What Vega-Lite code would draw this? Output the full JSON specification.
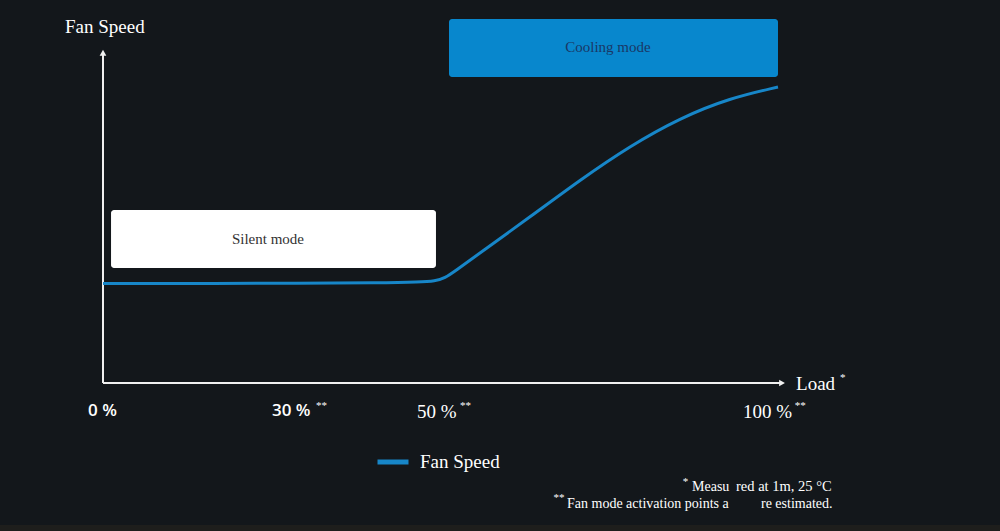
{
  "$schema": "https://vega.github.io/schema/vega-lite/v6.json",
  "width": 1000,
  "height": 531,
  "padding": 0,
  "autosize": {"type": "none"},
  "background": "#13171b",
  "config": {"view": {"stroke": null}},
  "datasets": {
    "curve": [
      {"load": 0, "speed": 29.44, "series": "Fan Speed"},
      {"load": 14.37, "speed": 29.44, "series": "Fan Speed"},
      {"load": 29.19, "speed": 29.5, "series": "Fan Speed"},
      {"load": 41.04, "speed": 29.64, "series": "Fan Speed"},
      {"load": 46.96, "speed": 29.88, "series": "Fan Speed"},
      {"load": 49.19, "speed": 30.18, "series": "Fan Speed"},
      {"load": 50.67, "speed": 31.07, "series": "Fan Speed"},
      {"load": 52.15, "speed": 33.14, "series": "Fan Speed"},
      {"load": 55.85, "speed": 38.46, "series": "Fan Speed"},
      {"load": 63.26, "speed": 49.11, "series": "Fan Speed"},
      {"load": 70.67, "speed": 60.06, "series": "Fan Speed"},
      {"load": 78.07, "speed": 70.12, "series": "Fan Speed"},
      {"load": 85.48, "speed": 78.4, "series": "Fan Speed"},
      {"load": 92.89, "speed": 84.32, "series": "Fan Speed"},
      {"load": 100, "speed": 87.57, "series": "Fan Speed"}
    ]
  },
  "layer": [
    {
      "data": {"values": [{"x": -15.26, "x2": 132.89, "y": -42.0, "y2": -43.79}]},
      "mark": {"type": "rect", "color": "#1e1e1c"},
      "encoding": {
        "x": {"field": "x", "type": "quantitative", "scale": {"domain": [-15.259, 132.889], "nice": false, "zero": false}, "axis": null},
        "x2": {"field": "x2"},
        "y": {"field": "y", "type": "quantitative", "scale": {"domain": [-43.787, 113.314], "nice": false, "zero": false}, "axis": null},
        "y2": {"field": "y2"}
      }
    },
    {
      "data": {"values": [{"x": 1.19, "x2": 49.33, "y": 34.02, "y2": 51.18}]},
      "mark": {"type": "rect", "color": "#ffffff", "cornerRadius": 3},
      "encoding": {
        "x": {"field": "x", "type": "quantitative"},
        "x2": {"field": "x2"},
        "y": {"field": "y", "type": "quantitative"},
        "y2": {"field": "y2"}
      }
    },
    {
      "data": {"values": [{"x": 51.26, "x2": 100, "y": 90.53, "y2": 107.69}]},
      "mark": {"type": "rect", "color": "#0887cd", "cornerRadius": 3},
      "encoding": {
        "x": {"field": "x", "type": "quantitative"},
        "x2": {"field": "x2"},
        "y": {"field": "y", "type": "quantitative"},
        "y2": {"field": "y2"}
      }
    },
    {
      "data": {"values": [{"x": 24.44, "y": 42.6, "t": "Silent mode"}]},
      "mark": {"type": "text", "font": "Liberation Serif", "fontSize": 15, "color": "#333333", "align": "center", "baseline": "middle"},
      "encoding": {
        "x": {"field": "x", "type": "quantitative"},
        "y": {"field": "y", "type": "quantitative"},
        "text": {"field": "t"}
      }
    },
    {
      "data": {"values": [{"x": 74.81, "y": 99.4, "t": "Cooling mode"}]},
      "mark": {"type": "text", "font": "Liberation Serif", "fontSize": 15, "color": "#1a3766", "align": "center", "baseline": "middle"},
      "encoding": {
        "x": {"field": "x", "type": "quantitative"},
        "y": {"field": "y", "type": "quantitative"},
        "text": {"field": "t"}
      }
    },
    {
      "data": {"values": [{"x": 0, "x2": 100.3, "y": 0}]},
      "mark": {"type": "rule", "color": "#f0f0f0", "strokeWidth": 2},
      "encoding": {
        "x": {"field": "x", "type": "quantitative"},
        "x2": {"field": "x2"},
        "y": {"field": "y", "type": "quantitative"}
      }
    },
    {
      "data": {"values": [{"x": 0, "y": 0, "y2": 97.5}]},
      "mark": {"type": "rule", "color": "#f0f0f0", "strokeWidth": 2},
      "encoding": {
        "x": {"field": "x", "type": "quantitative"},
        "y": {"field": "y", "type": "quantitative"},
        "y2": {"field": "y2"}
      }
    },
    {
      "data": {"values": [{"x": 100.6, "y": 0}]},
      "mark": {"type": "point", "shape": "triangle-right", "filled": true, "color": "#f0f0f0", "size": 45, "opacity": 1},
      "encoding": {
        "x": {"field": "x", "type": "quantitative"},
        "y": {"field": "y", "type": "quantitative"}
      }
    },
    {
      "data": {"values": [{"x": 0, "y": 97.7}]},
      "mark": {"type": "point", "shape": "triangle-up", "filled": true, "color": "#f0f0f0", "size": 45, "opacity": 1},
      "encoding": {
        "x": {"field": "x", "type": "quantitative"},
        "y": {"field": "y", "type": "quantitative"}
      }
    },
    {
      "data": {"name": "curve"},
      "mark": {"type": "line", "interpolate": "basis", "strokeWidth": 3},
      "encoding": {
        "x": {"field": "load", "type": "quantitative"},
        "y": {"field": "speed", "type": "quantitative"},
        "color": {
          "field": "series",
          "type": "nominal",
          "scale": {"domain": ["Fan Speed"], "range": ["#1786c8"]},
          "legend": {
            "orient": "none",
            "legendX": 375,
            "legendY": 444,
            "title": null,
            "symbolType": "stroke",
            "symbolSize": 961,
            "symbolStrokeWidth": 5,
            "labelFont": "Liberation Serif",
            "labelFontSize": 19,
            "labelColor": "#ffffff",
            "labelOffset": 9
          }
        }
      }
    },
    {
      "data": {"values": [
        {"x": -5.63, "y": 105.3, "t": "Fan Speed"},
        {"x": 102.67, "y": -0.3, "t": "Load"},
        {"x": 46.52, "y": -8.58, "t": "50 %"},
        {"x": 94.81, "y": -8.58, "t": "100 %"}
      ]},
      "mark": {"type": "text", "font": "Liberation Serif", "fontSize": 19, "color": "#ffffff", "align": "left", "baseline": "middle"},
      "encoding": {
        "x": {"field": "x", "type": "quantitative"},
        "y": {"field": "y", "type": "quantitative"},
        "text": {"field": "t"}
      }
    },
    {
      "data": {"values": [
        {"x": -2.22, "y": -8.28, "t": "0 %"},
        {"x": 25.04, "y": -8.28, "t": "30 %"}
      ]},
      "mark": {"type": "text", "font": "Open Sans", "fontWeight": 600, "fontSize": 17, "color": "#ffffff", "align": "left", "baseline": "middle"},
      "encoding": {
        "x": {"field": "x", "type": "quantitative"},
        "y": {"field": "y", "type": "quantitative"},
        "text": {"field": "t"}
      }
    },
    {
      "data": {"values": [
        {"x": 109.2, "y": 1.6, "t": "*"},
        {"x": 31.56, "y": -6.7, "t": "**"},
        {"x": 52.9, "y": -6.7, "t": "**"},
        {"x": 102.5, "y": -6.7, "t": "**"},
        {"x": 85.9, "y": -29.2, "t": "*"},
        {"x": 66.75, "y": -33.9, "t": "**"}
      ]},
      "mark": {"type": "text", "font": "Liberation Serif", "fontSize": 11, "color": "#ffffff", "align": "left", "baseline": "middle"},
      "encoding": {
        "x": {"field": "x", "type": "quantitative"},
        "y": {"field": "y", "type": "quantitative"},
        "text": {"field": "t"}
      }
    },
    {
      "data": {"values": [
        {"x": 87.26, "y": -30.77, "t": "Measu"},
        {"x": 68.74, "y": -35.8, "t": "Fan mode activation points a"},
        {"x": 97.48, "y": -35.8, "t": "re estimated."}
      ]},
      "mark": {"type": "text", "font": "Liberation Serif", "fontSize": 14, "color": "#ffffff", "align": "left", "baseline": "middle"},
      "encoding": {
        "x": {"field": "x", "type": "quantitative"},
        "y": {"field": "y", "type": "quantitative"},
        "text": {"field": "t"}
      }
    },
    {
      "data": {"values": [
        {"x": 93.78, "y": -30.77, "t": "red at 1m, 25 °C"}
      ]},
      "mark": {"type": "text", "font": "Liberation Serif", "fontSize": 14.5, "color": "#ffffff", "align": "left", "baseline": "middle"},
      "encoding": {
        "x": {"field": "x", "type": "quantitative"},
        "y": {"field": "y", "type": "quantitative"},
        "text": {"field": "t"}
      }
    }
  ]
}
